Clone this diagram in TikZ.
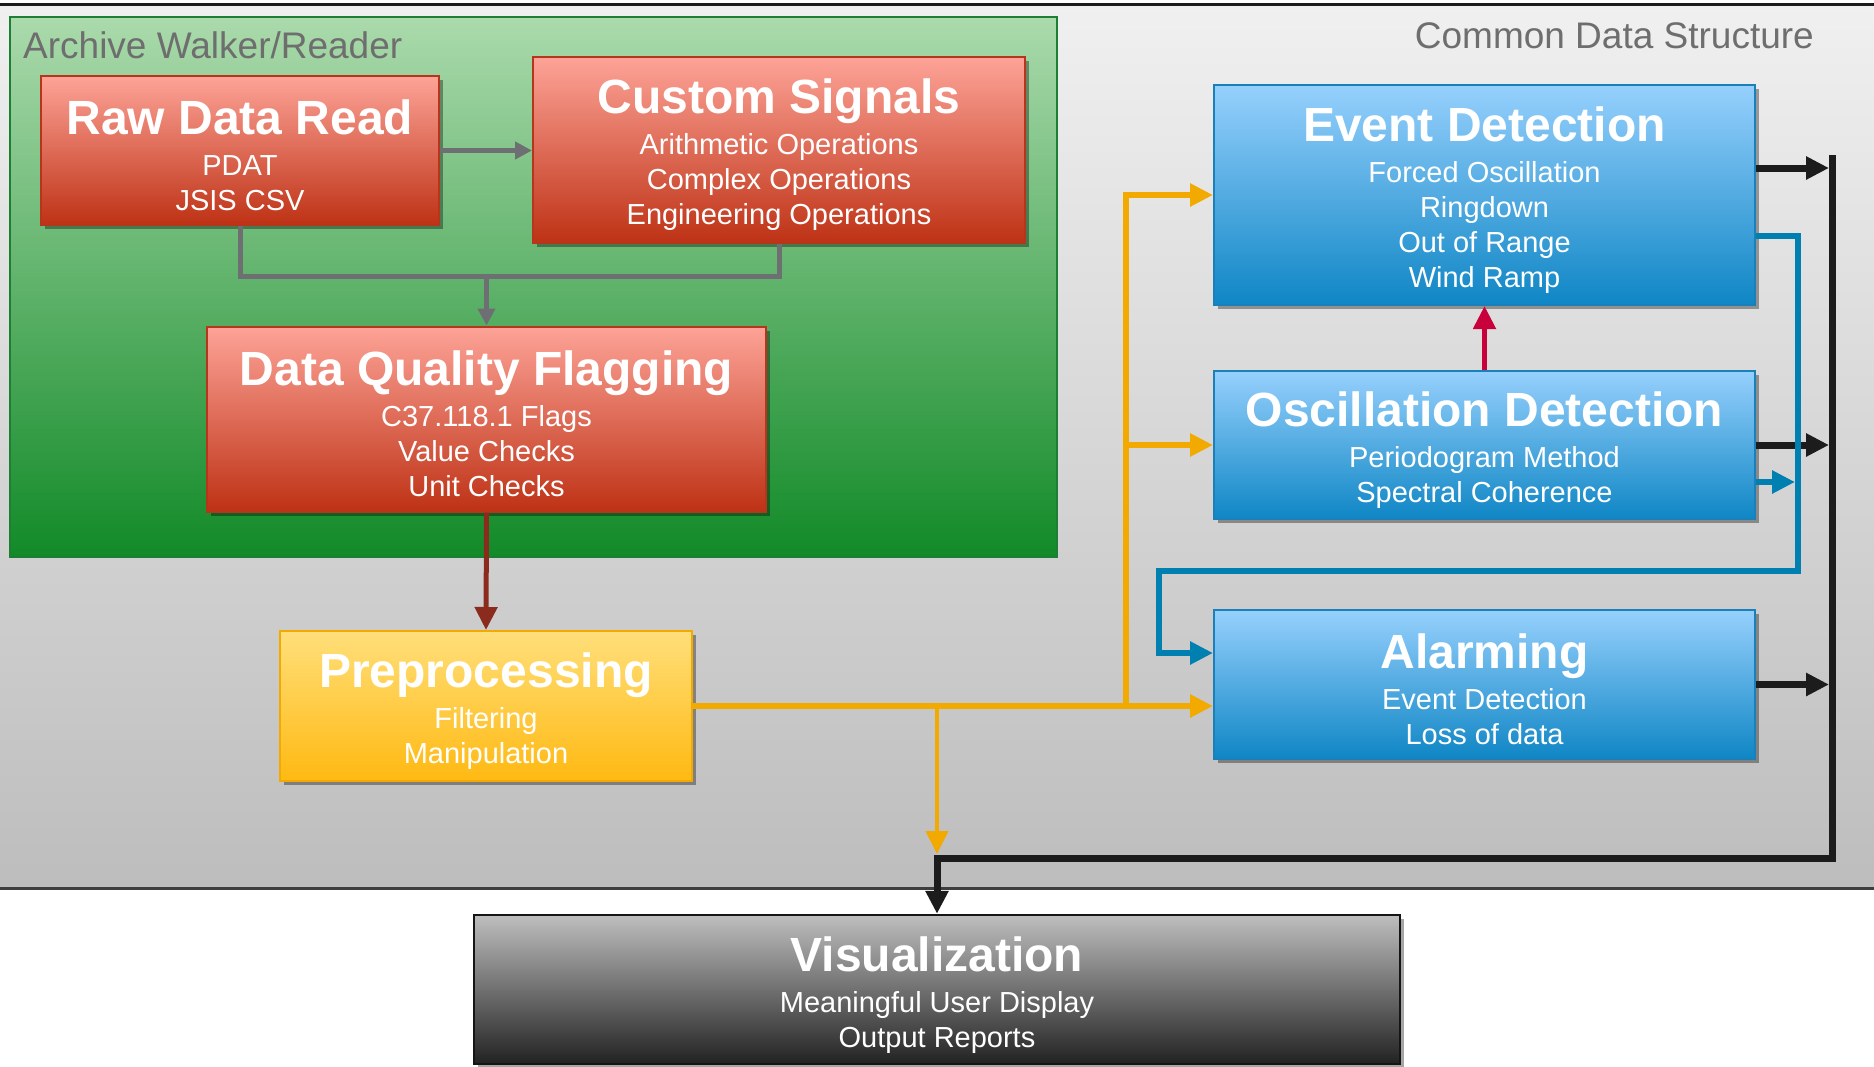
\documentclass[tikz,border=0pt]{standalone}
\usepackage{fontspec}
\setmainfont{Liberation Sans}
\usetikzlibrary{arrows.meta,shadows}
\definecolor{bgtop}{HTML}{F0F0F0}
\definecolor{bgbot}{HTML}{BDBDBD}
\definecolor{greentop}{HTML}{ABDAAC}
\definecolor{greenbot}{HTML}{128A28}
\definecolor{greenbord}{HTML}{1D7F33}
\definecolor{redtop}{HTML}{FDA397}
\definecolor{redbot}{HTML}{BE3215}
\definecolor{redbord}{HTML}{B5361B}
\definecolor{bluetop}{HTML}{96D0FD}
\definecolor{bluebot}{HTML}{0F86C5}
\definecolor{bluebord}{HTML}{1A80BA}
\definecolor{yeltop}{HTML}{FFDF7A}
\definecolor{yelbot}{HTML}{FFB912}
\definecolor{yelbord}{HTML}{F2A900}
\definecolor{vistop}{HTML}{BEBEBE}
\definecolor{visbot}{HTML}{222222}
\definecolor{visbord}{HTML}{151515}
\definecolor{orln}{HTML}{F2A900}
\definecolor{blln}{HTML}{0080B0}
\definecolor{bkln}{HTML}{1C1C1C}
\definecolor{rdln}{HTML}{C8003C}
\definecolor{brln}{HTML}{8B2B1D}
\definecolor{grln}{HTML}{6D6F73}
\definecolor{lbl}{HTML}{6E6E6E}
\newcommand\boxtitle[1]{{\fontsize{48}{48}\selectfont\bfseries\rule{0pt}{45pt}#1}\\[6pt]}
\begin{document}
\begin{tikzpicture}[x=1pt,y=-1pt,
  box/.style={draw, line width=2pt, align=center, inner sep=0pt, text=white,
    font=\fontsize{29}{35}\selectfont,
    drop shadow={shadow xshift=4pt, shadow yshift=-4pt, opacity=0.35, fill=black}},
  redbox/.style={box, top color=redtop, bottom color=redbot, draw=redbord},
  bluebox/.style={box, top color=bluetop, bottom color=bluebot, draw=bluebord},
  yelbox/.style={box, top color=yeltop, bottom color=yelbot, draw=yelbord},
  visbox/.style={box, top color=vistop, bottom color=visbot, draw=visbord, line width=2.5pt},
  grayconn/.style={draw=grln, line width=5pt},
  grtip/.style={-{Triangle[length=17pt,width=17pt]}},
  bigtip/.style={-{Triangle[length=23pt,width=22pt]}},
  orconn/.style={draw=orln, line width=6pt},
  blconn/.style={draw=blln, line width=6.5pt},
  bkconn/.style={draw=bkln, line width=7pt},
  lbltext/.style={text=lbl, font=\fontsize{37}{40}\selectfont, inner sep=0pt}
]
\useasboundingbox (0,0) rectangle (1874,1066);
\fill[white] (0,0) rectangle (1874,1066);
% common data structure background
\shade[top color=bgtop, bottom color=bgbot] (0,4) rectangle (1874,888);
\draw[bkln, line width=3pt] (0,4) -- (1874,4);
\draw[bkln!85, line width=3pt] (0,888) -- (1874,888);
\node[lbltext, anchor=east] (cds) at (1814,36) {Common Data Structure};
% archive walker/reader
\shade[top color=greentop, bottom color=greenbot] (10,17) rectangle (1057,557);
\draw[greenbord, line width=2pt] (10,17) rectangle (1057,557);
\node[lbltext, anchor=west] (awr) at (23,45) {Archive Walker/Reader};

% boxes
\node[redbox, minimum width=398, minimum height=149] (raw) at (240,150.5)
  {\boxtitle{Raw Data Read} PDAT\\ JSIS CSV};
\node[redbox, minimum width=492, minimum height=186] (custom) at (779,150)
  {\boxtitle{Custom Signals} Arithmetic Operations\\ Complex Operations\\ Engineering Operations};
\node[redbox, minimum width=559, minimum height=185] (dqf) at (486.5,419)
  {\boxtitle{Data Quality Flagging} C37.118.1 Flags\\ Value Checks\\ Unit Checks};
\node[yelbox, minimum width=412, minimum height=150] (prep) at (486,706)
  {\boxtitle{Preprocessing} Filtering\\ Manipulation};
\node[bluebox, minimum width=541, minimum height=220] (event) at (1484.5,195)
  {\boxtitle{Event Detection} Forced Oscillation\\ Ringdown\\ Out of Range\\ Wind Ramp};
\node[bluebox, minimum width=541, minimum height=148] (osc) at (1484.5,445)
  {\boxtitle{Oscillation Detection} Periodogram Method\\ Spectral Coherence};
\node[bluebox, minimum width=541, minimum height=149] (alarm) at (1484.5,684.5)
  {\boxtitle{Alarming} Event Detection\\ Loss of data};
\node[visbox, minimum width=926, minimum height=149] (vis) at (937,989.5)
  {\boxtitle{Visualization} Meaningful User Display\\ Output Reports};

% gray connectors
\coordinate (j1) at (486.5,276);
\draw[grayconn, grtip] (raw.east) -- (raw.east -| custom.west);
\draw[grayconn] (raw.south) |- (j1) -| (custom.south);
\draw[grayconn, grtip] (j1) -- (dqf.north);
% brown
\draw[draw=brln, line width=5pt, bigtip] (dqf.south) -- (prep.north);
% black bus
\coordinate (k0) at (1832,158);
\coordinate (k1) at (1832,858);
\coordinate (k2) at (937,858);
\draw[bkconn, line cap=rect] (k0) -- (k1) -- (k2);
\draw[bkconn, bigtip] (k2) -- (vis.north);
\draw[bkconn, bigtip, shorten >=3pt] ([yshift=27pt]event.east) coordinate (eb) -- (eb -| k0);
\draw[bkconn, bigtip, shorten >=3pt] (osc.east) -- (osc.east -| k0);
\draw[bkconn, bigtip, shorten >=3pt] (alarm.east) -- (alarm.east -| k0);
% orange
\coordinate (o1) at (1126,706);
\coordinate (o2) at (937,706);
\draw[orconn, bigtip] (prep.east) -- (prep.east -| alarm.west);
\draw[orconn, bigtip] (o1) |- (event.west);
\draw[orconn, bigtip] (o1 |- osc.west) -- (osc.west);
\draw[draw=orln, line width=4pt, bigtip, shorten >=4pt] (o2) -- (k2);
% blue
\coordinate (b1) at (1798,571);
\coordinate (b2) at (1159,571);
\draw[blconn, bigtip] ([yshift=-41pt]event.east) -| (b1) -- (b2) |- ([yshift=31.5pt]alarm.west);
\draw[blconn, bigtip, shorten >=3pt] ([yshift=-37pt]osc.east) coordinate (ob) -- (ob -| b1);
% red
\draw[draw=rdln, line width=5pt, bigtip] (osc.north) -- (event.south);
\end{tikzpicture}
\end{document}
